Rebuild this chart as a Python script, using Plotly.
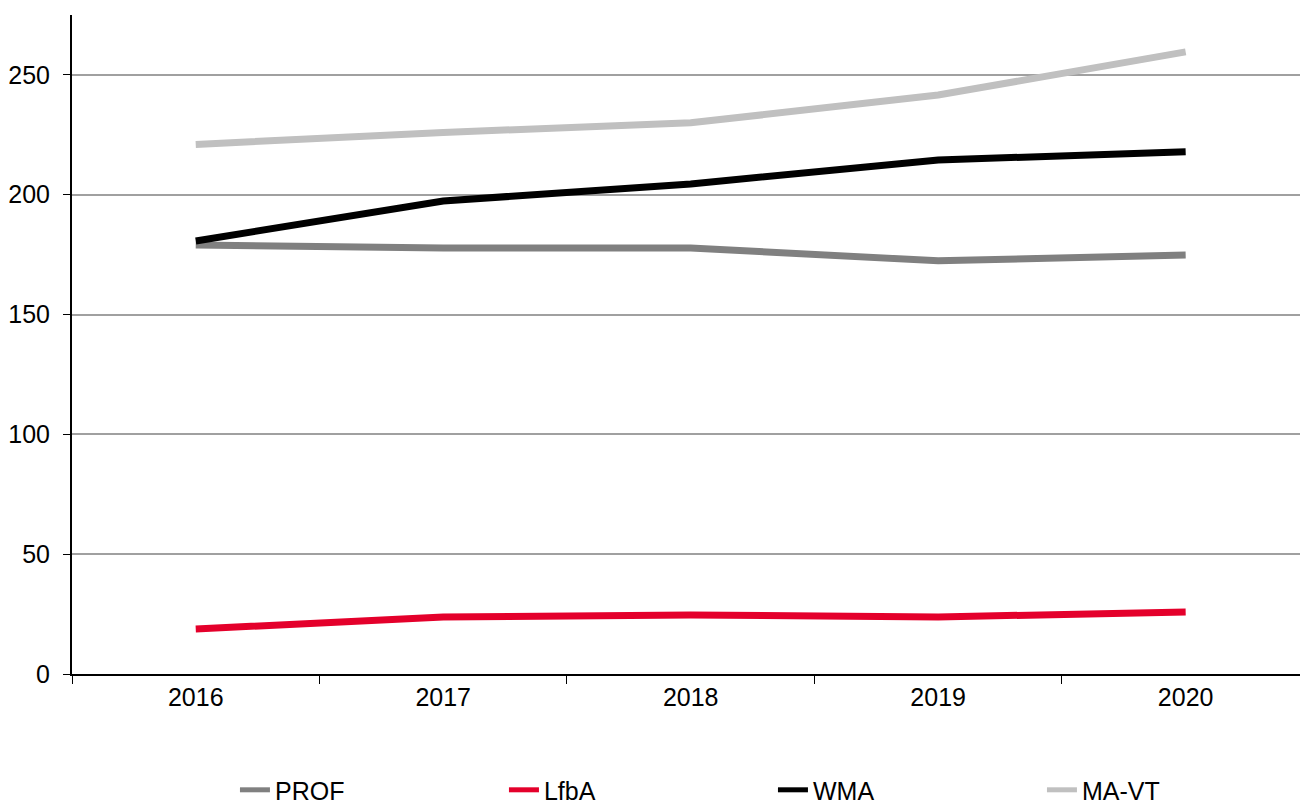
import plotly.graph_objects as go

years = ["2016", "2017", "2018", "2019", "2020"]
prof = [179.0, 177.8, 177.8, 172.4, 174.9]
lfba = [18.8, 23.8, 24.6, 23.8, 25.9]
wma = [180.7, 197.4, 204.5, 214.5, 217.9]
ma_vt = [221.0, 226.0, 230.0, 241.6, 259.6]

series = [
    ("PROF", prof, "#808080"),
    ("LfbA", lfba, "#E4002B"),
    ("WMA", wma, "#000000"),
    ("MA-VT", ma_vt, "#C0C0C0"),
]

fig = go.Figure()
for name, vals, color in series:
    fig.add_trace(go.Scatter(
        x=years, y=vals, name=name, mode="lines",
        line=dict(color=color, width=7),
    ))

font = dict(family="Liberation Sans, Arial, sans-serif", size=25, color="#000000")

fig.update_layout(
    width=1300, height=807,
    margin=dict(l=72, r=0, t=15, b=133, autoexpand=False),
    paper_bgcolor="white", plot_bgcolor="white",
    font=font,
    showlegend=True,
    legend=dict(
        orientation="h", x=0.1327, xanchor="left",
        y=0.021, yanchor="middle", yref="container",
        entrywidth=224, entrywidthmode="pixels",
        font=font, itemsizing="constant", bgcolor="rgba(0,0,0,0)",
    ),
    xaxis=dict(
        type="category", range=[-0.5, 4.462],
        tickson="boundaries", ticks="outside", ticklen=8, tickcolor="#000000",
        showline=True, linecolor="#000000", linewidth=2,
        showgrid=False, zeroline=False,
    ),
    yaxis=dict(
        range=[0, 275], tickvals=[0, 50, 100, 150, 200, 250],
        ticks="outside", ticklen=7, tickcolor="#000000",
        showline=True, linecolor="#000000", linewidth=2,
        showgrid=True, gridcolor="#A0A0A0", gridwidth=1.5,
        zeroline=False, ticklabelstandoff=8,
    ),
)

fig.write_html("out.html")
